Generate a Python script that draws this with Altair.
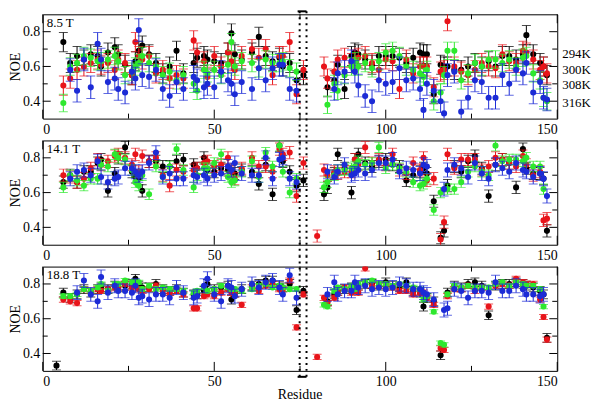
import altair as alt
import pandas as pd

FONT = "Liberation Serif"
W, H = 518, 105

residue = [4, 6, 8, 10, 12, 14, 16, 17, 19, 21,
           22, 24, 26, 27, 28, 29, 31, 33, 35, 37,
           39, 41, 44, 45, 47, 48, 50, 52, 54, 55,
           56, 58, 61, 63, 65, 67, 69, 70, 72, 74,
           76, 80, 82, 83, 85, 86, 88, 90, 91, 92,
           94, 96, 98, 100, 102, 104, 106, 108, 110, 111,
           112, 114, 116, 117, 118, 120, 122, 124, 126, 128,
           130, 132, 134, 136, 138, 140, 141, 143, 145, 146,
           147]

temps = ["294K", "300K", "308K", "316K"]
colors = ["#000000", "#e8141a", "#2ee82e", "#1c2bd6"]
N = None

noe85_294 = [N, .74, .62, .66, .64, .67, .66, .60, .68, .71,
             .67, .61, .55, .63, .69, .72, .67, .62, .56, .60,
             .69, .56, .62, .65, .66, .64, .63, .62, .68, .79,
             .67, .64, .68, .77, .66, .63, .65, .60, .62, .52,
             .55, N, N, .48, .52, .61, .47, .66, .68, .67,
             .64, .61, .66, .66, .66, .65, .62, .65, .68, .67,
             .67, .44, .61, .60, .60, .58, .58, .60, .62, .60,
             .63, .60, .66, .66, .64, .67, .78, .67, .62, .60,
             .55]
noe85_300 = [N, .49, .53, .58, .60, .62, .64, .61, .62, .58,
             .64, .62, .55, .74, .66, .64, .66, .56, .58, .53,
             .55, .53, .75, .68, .63, .54, .66, .60, .68, .63,
             .58, .66, .70, .65, .70, .55, .66, .66, .74, .44,
             .58, N, .60, .53, .57, .64, .65, .62, .64, .65,
             .66, .62, .58, .64, .63, .47, .64, .56, .60, .60,
             .60, .48, .57, .58, .86, .60, .57, .55, .58, .62,
             .60, .59, .67, .63, .62, .69, .68, .64, .58, .60,
             .56]
noe85_308 = [N, .39, .60, .62, .66, .65, .63, .63, .64, .66,
             .63, .55, .57, .60, .62, .66, .62, .60, .55, .57,
             .52, .55, .50, .46, .58, .56, .58, .55, .61, .74,
             .60, .63, .62, .59, .64, .62, .62, .63, .59, .57,
             N, N, N, .38, .50, .46, .55, .60, .63, .60,
             .62, .59, .63, .68, .69, .66, .60, .58, .56, .54,
             .58, .40, .45, .55, .69, .69, .52, .56, .62, .60,
             .64, .64, .62, .64, .60, .65, .66, .56, .52, .42,
             .40]
noe85_316 = [N, N, .58, .46, .64, .48, .73, .64, .51, .53,
             .47, .45, .57, .53, .81, .55, .54, .58, .47, .43,
             .51, .47, .54, .52, .48, .50, .48, .57, .52, .50,
             .44, .51, .47, .59, .52, .59, .61, .61, .47, .46,
             N, N, N, N, .47, .56, .57, .63, .57, .49,
             .43, .40, .52, .50, .51, .59, .52, .53, .47, .35,
             .50, .46, .40, .33, .55, .57, .34, .42, .52, .51,
             .42, .42, .55, .50, .58, .56, .62, .45, .51, .42,
             .41]
err85 = [0.055, 0.055, 0.05, 0.065]

noe141_294 = [N, .66, .70, .66, .72, .72, .77, .79, .61, .71,
              .80, .86, .72, .69, .68, .61, .78, .78, .75, .75,
              .78, .79, .76, .74, .80, .73, .72, .74, .73, .72,
              .71, .73, .72, .65, .76, .59, .87, .78, .72, .64,
              .67, N, .59, .63, .71, .82, .74, .60, .79, .82,
              .77, .75, .78, .79, .76, .75, .67, .70, .72, .74,
              .71, .55, .34, .38, .64, .75, .72, .78, .81, .74,
              .58, .76, .79, .77, .63, .85, .74, .71, .71, .68,
              .38]
noe141_300 = [N, .70, .69, .66, .68, .74, .79, .76, .78, .81,
              .82, .80, .76, .82, .72, .81, .78, .80, .70, .64,
              .73, .72, .73, .74, .77, .78, .75, .76, .80, .72,
              .68, .74, .80, .75, .75, .72, .85, .82, .83, .58,
              .77, .35, .73, .70, .72, .71, .72, .72, .79, .76,
              .86, .77, .79, .76, .82, .73, .71, .77, .73, .80,
              .67, .68, .33, .43, .82, .74, .79, .79, .79, .73,
              .75, .80, .79, .77, .75, .81, .76, .70, .72, .44,
              .45]
noe141_308 = [N, .63, .70, .67, .64, .68, .68, .76, .75, .82,
              .80, .79, .73, .66, .64, .70, .59, .75, .69, .75,
              .85, .73, .63, .70, .74, .74, .77, .82, .69, .66,
              .67, .72, .78, .69, .83, .75, .87, .72, .60, .68,
              N, N, .63, .66, .70, .73, .73, .74, .75, .78,
              .76, .77, .86, .74, .76, .74, .72, .66, .64, .65,
              .68, .50, .60, N, .62, .62, .66, .72, .75, .72,
              .70, .87, .78, .79, .79, .78, .80, .75, .75, .62,
              N]
noe141_316 = [N, N, .68, .72, .73, .70, .78, .69, .66, .68,
              .69, .74, .74, .72, .70, .72, .77, .83, .69, .71,
              .68, .68, .70, .69, .70, .68, .70, .71, .75, .73,
              .77, .71, .70, .70, .80, .68, .79, .80, .68, .66,
              N, N, N, .72, .69, .72, .76, .70, .71, .73,
              .71, .73, .77, .77, .79, .72, .74, .73, .71, .76,
              .75, N, N, .62, .73, .76, .74, .69, .77, .71,
              .68, .76, .74, .72, .77, .73, .72, .69, .71, .68,
              .58]
err141 = [0.035, 0.035, 0.03, 0.04]

noe188_294 = [.33, .75, .72, .74, .77, .75, .77, .78, .77, .79,
              .78, .79, .80, .83, .79, .78, .78, .80, .77, .76,
              .77, .75, .74, .74, .76, .80, .77, .78, .79, .71,
              .75, .77, .79, .80, .82, .82, .79, .78, .80, .65,
              .76, N, N, .70, .74, .76, .77, .78, .77, .79,
              .80, .80, .79, .81, .79, .78, .81, .76, .75, .67,
              .72, .70, .39, N, .75, .79, .78, .80, .81, .79,
              .62, .79, .80, .80, .81, .80, .79, .78, .76, .74,
              .49]
noe188_300 = [N, .71, .70, .69, .77, .76, .77, .76, .77, .78,
              .78, .80, .78, .79, .77, .76, .77, .79, .76, .75,
              .76, .74, .66, .66, .73, .74, .73, .75, .77, .75,
              .74, .68, .78, .76, .79, .80, .77, .77, .82, .55,
              .74, .38, .72, .69, .72, .75, .78, .75, .76, .75,
              .89, .79, .79, .79, .78, .76, .76, .74, .75, .75,
              .72, .68, .43, .42, .73, .77, .77, .79, .76, .78,
              .67, .79, .80, .79, .83, .81, .80, .80, .71, .61,
              .48]
noe188_308 = [N, .73, .73, .74, .77, .76, .78, .80, .76, .80,
              .80, .82, .81, .81, .81, .77, .79, .77, .78, .77,
              .77, .76, .75, .76, .78, .76, .77, .79, .78, .77,
              .77, .76, .77, .79, .80, .78, .79, .78, .77, .77,
              N, N, .68, .67, .76, .78, .77, .79, .77, .80,
              .81, .82, .80, .80, .79, .80, .79, .78, .77, .71,
              .73, .64, .46, .45, .74, .79, .78, .79, .78, .78,
              .78, .80, .81, .79, .81, .80, .79, .79, .77, .67,
              N]
noe188_316 = [N, N, N, .75, .82, .74, .70, .84, .75, .79,
              .76, .76, .75, .79, .72, .73, .71, .74, .74, .72,
              .78, .75, .72, .73, .79, .83, .74, .70, .79, .78,
              .73, .77, .80, .78, .81, .82, .78, .74, .85, .72,
              N, N, N, .74, .81, .74, .76, .76, .81, .78,
              .79, .77, .78, .77, .78, .80, .79, .77, .77, .75,
              .74, .71, N, .65, .66, .77, .76, .72, .76, .76,
              .75, .81, .76, .76, .79, .77, .74, .74, .73, .74,
              N]
err188 = [0.025, 0.015, 0.012, 0.04]

x_major = [0, 50, 100, 150]
x_minor = [25, 75, 125]
y_major = [0.4, 0.6, 0.8]
y_minor = [0.5, 0.7]
box_x = [74.9, 76.9]
legend_y = [40, 56, 71, 89]
x_title = "Residue"

xscale = alt.Scale(domain=[0, 150], nice=False, zero=False)
yscale = alt.Scale(domain=[0.3, 0.9], nice=False, zero=False)


def make_panel(series, errs, label, show_title, ext_top, ext_bot, top_bracket, bot_bracket, legend):
    xax = alt.Axis(values=x_major, ticks=False, tickSize=0, domain=False, grid=False,
                   labelPadding=4, labelFont=FONT, labelFontSize=14, labelColor="black",
                   title="")
    yax = alt.Axis(values=y_major, format=".1f", ticks=False, tickSize=0, domain=False,
                   grid=False, labelPadding=3, labelFont=FONT, labelFontSize=14,
                   labelColor="black", title="NOE", titleFont=FONT, titleFontSize=14,
                   titleFontWeight="normal", titleColor="black", titlePadding=0)
    X = lambda f: alt.X(f, type="quantitative", scale=xscale, axis=xax)
    Y = lambda f: alt.Y(f, type="quantitative", scale=yscale, axis=yax)

    layers = []
    for t, c, vals, e in zip(temps, colors, series, errs):
        rows = [{"res": r, "noe": v, "lo": v - e, "hi": v + e}
                for r, v in zip(residue, vals) if v is not None]
        base = alt.Chart(pd.DataFrame(rows))
        layers.append(base.mark_rule(color=c, strokeWidth=1, clip=True)
                      .encode(x=X("res"), y=Y("lo"), y2="hi"))
        layers.append(base.mark_tick(color=c, orient="horizontal", size=9, thickness=1, clip=True)
                      .encode(x=X("res"), y=Y("lo")))
        layers.append(base.mark_tick(color=c, orient="horizontal", size=9, thickness=1, clip=True)
                      .encode(x=X("res"), y=Y("hi")))
        layers.append(base.mark_circle(color=c, size=38, opacity=1, clip=True)
                      .encode(x=X("res"), y=Y("noe")))

    for vals, L in ((x_major, 9), (x_minor, 5)):
        d = alt.Chart(pd.DataFrame({"v": vals}))
        layers.append(d.mark_rule(color="black", strokeWidth=1)
                      .encode(x=X("v"), y=alt.value(H), y2=alt.value(H - L)))
        layers.append(d.mark_rule(color="black", strokeWidth=1)
                      .encode(x=X("v"), y=alt.value(0), y2=alt.value(L)))
    for vals, L in ((y_major, 8), (y_minor, 5)):
        d = alt.Chart(pd.DataFrame({"v": vals}))
        layers.append(d.mark_rule(color="black", strokeWidth=1)
                      .encode(y=Y("v"), x=alt.value(0), x2=alt.value(L)))
        layers.append(d.mark_rule(color="black", strokeWidth=1)
                      .encode(y=Y("v"), x=alt.value(W), x2=alt.value(W - L)))

    layers.append(alt.Chart(pd.DataFrame({"v": box_x}))
                  .mark_rule(color="black", strokeWidth=2, strokeDash=[2, 4])
                  .encode(x=X("v"), y=alt.value(-ext_top), y2=alt.value(H + ext_bot)))
    bracket = pd.DataFrame({"a": [box_x[0] - 0.6], "b": [box_x[1]]})
    if top_bracket:
        layers.append(alt.Chart(bracket).mark_rule(color="black", strokeWidth=2)
                      .encode(x=X("a"), x2="b", y=alt.value(-ext_top)))
    if bot_bracket:
        layers.append(alt.Chart(bracket).mark_rule(color="black", strokeWidth=2)
                      .encode(x=X("a"), x2="b", y=alt.value(H + ext_bot)))

    layers.append(alt.Chart(pd.DataFrame({"t": [label]}))
                  .mark_text(align="left", baseline="top", font=FONT, fontSize=13, color="black")
                  .encode(text="t:N", x=alt.value(4), y=alt.value(3)))
    if show_title:
        layers.append(alt.Chart(pd.DataFrame({"t": [x_title]}))
                      .mark_text(align="center", baseline="middle", font=FONT, fontSize=14,
                                 color="black")
                      .encode(text="t:N", x=alt.value(W / 2), y=alt.value(H + 24)))
    if legend:
        for t, yy in zip(temps, legend_y):
            layers.append(alt.Chart(pd.DataFrame({"t": [t]}))
                          .mark_text(align="left", baseline="middle", font=FONT, fontSize=13,
                                     color="black")
                          .encode(text="t:N", x=alt.value(W + 5), y=alt.value(yy)))
    return alt.layer(*layers).properties(width=W, height=H)


p1 = make_panel([noe85_294, noe85_300, noe85_308, noe85_316], err85, "8.5 T",
                False, 3, 11, True, False, True)
p2 = make_panel([noe141_294, noe141_300, noe141_308, noe141_316], err141, "14.1 T",
                False, 11, 11, False, False, False)
p3 = make_panel([noe188_294, noe188_300, noe188_308, noe188_316], err188, "18.8 T",
                True, 11, 6, False, True, False)

chart = (alt.vconcat(p1, p2, p3, spacing=22, bounds="flush")
         .properties(padding={"left": 0, "top": 0, "right": 0, "bottom": 0}, background="white")
         .configure_view(stroke="black", strokeWidth=1, fill="white"))

chart.save("out.html", embed_options={"renderer": "svg", "actions": False})
